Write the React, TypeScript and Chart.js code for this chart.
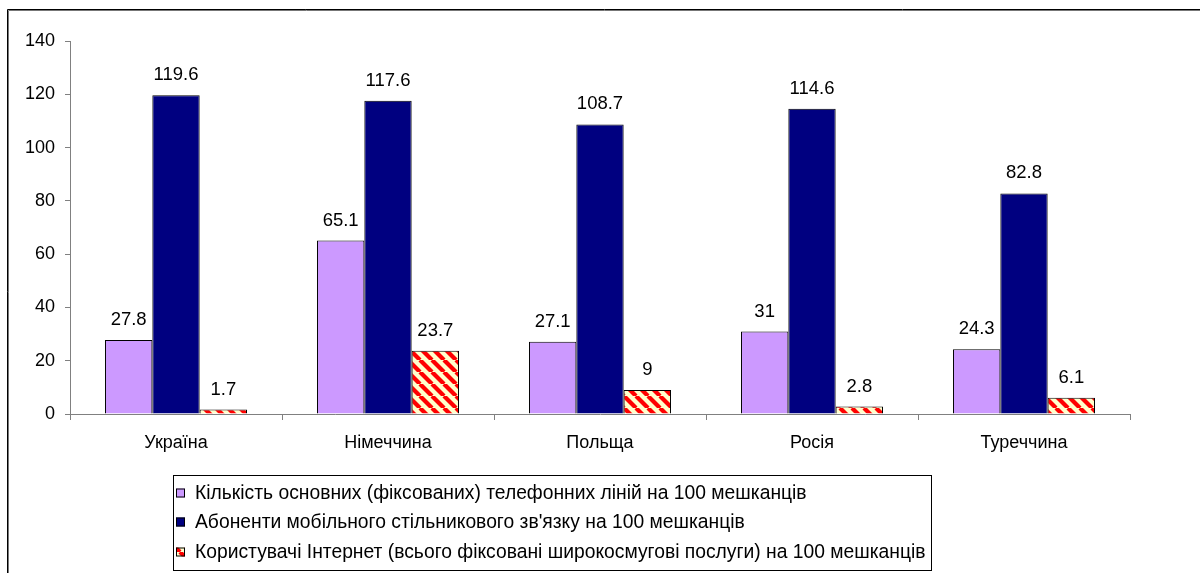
import React, { useEffect, useRef } from "react";
import { Chart, registerables } from "chart.js";

Chart.register(...registerables);

const categories = ["Україна", "Німеччина", "Польща", "Росія", "Туреччина"];
const seriesLabels = [
  "Кількість основних (фіксованих) телефонних ліній на 100 мешканців",
  "Абоненти мобільного стільникового зв'язку на 100 мешканців",
  "Користувачі Інтернет (всього фіксовані широкосмугові послуги) на 100 мешканців",
];
const fixedLines = [27.8, 65.1, 27.1, 31, 24.3];
const mobileSubs = [119.6, 117.6, 108.7, 114.6, 82.8];
const internetUsers = [1.7, 23.7, 9, 2.8, 6.1];
const yTicks = { min: 0, max: 140, step: 20 };

const FONT = '"Liberation Sans", Arial, sans-serif';

function makeHatch(): CanvasPattern | string {
  const n = 12;
  const c = document.createElement("canvas");
  c.width = n;
  c.height = n;
  const g = c.getContext("2d");
  if (!g) return "#FFFFCC";
  g.fillStyle = "#FFFFCC";
  g.fillRect(0, 0, n, n);
  g.strokeStyle = "#FF0000";
  g.lineWidth = 4.2;
  for (const o of [-n, 0, n]) {
    g.beginPath();
    g.moveTo(o, 0);
    g.lineTo(o + n, n);
    g.stroke();
  }
  const p = g.createPattern(c, "repeat");
  return p || "#FFFFCC";
}

const valueLabels = {
  id: "valueLabels",
  afterDatasetsDraw(chart: any) {
    const ctx = chart.ctx;
    ctx.save();
    ctx.font = `18.5px ${FONT}`;
    ctx.fillStyle = "#000";
    ctx.textAlign = "center";
    ctx.textBaseline = "middle";
    chart.data.datasets.forEach((ds: any, i: number) => {
      const meta = chart.getDatasetMeta(i);
      meta.data.forEach((el: any, j: number) => {
        ctx.fillText(String(ds.data[j]), el.x, el.y - 20);
      });
    });
    ctx.restore();
  },
};

const boxLegend = {
  id: "boxLegend",
  afterDraw(chart: any) {
    const ctx = chart.ctx;
    ctx.save();
    // outer frame
    ctx.lineWidth = 1;
    ctx.strokeStyle = "#000";
    ctx.beginPath();
    ctx.moveTo(7.5, 600);
    ctx.lineTo(7.5, 9.5);
    ctx.lineTo(1250, 9.5);
    ctx.stroke();
    ctx.strokeStyle = "#777";
    ctx.beginPath();
    ctx.moveTo(8.5, 600);
    ctx.lineTo(8.5, 10.5);
    ctx.lineTo(1250, 10.5);
    ctx.stroke();

    // legend box
    const bx = 173.5, by = 475.5, bw = 758, bh = 95;
    ctx.fillStyle = "#fff";
    ctx.fillRect(bx, by, bw, bh);
    ctx.strokeStyle = "#000";
    ctx.strokeRect(bx, by, bw, bh);
    ctx.font = `19.3px ${FONT}`;
    ctx.textBaseline = "middle";
    ctx.textAlign = "left";
    const rows = [493, 522, 552];
    chart.data.datasets.forEach((ds: any, i: number) => {
      const y = rows[i];
      ctx.fillStyle = ds.backgroundColor;
      ctx.fillRect(176, y - 4.5, 9, 9);
      ctx.strokeStyle = "#000";
      ctx.strokeRect(176.5, y - 4, 8, 8);
      ctx.fillStyle = "#000";
      ctx.fillText(ds.label, 195, y + 1);
    });
    ctx.restore();
  },
};

export default function App() {
  const ref = useRef<HTMLCanvasElement | null>(null);
  useEffect(() => {
    if (!ref.current) return;
    const hatch = makeHatch();
    const chart = new Chart(ref.current, {
      type: "bar",
      data: {
        labels: categories,
        datasets: [
          { label: seriesLabels[0], data: fixedLines, backgroundColor: "#CC99FF", borderColor: "#000", borderWidth: 1 },
          { label: seriesLabels[1], data: mobileSubs, backgroundColor: "#000080", borderColor: "#000", borderWidth: 1 },
          { label: seriesLabels[2], data: internetUsers, backgroundColor: hatch as any, borderColor: "#000", borderWidth: 1 },
        ],
      },
      options: {
        responsive: false,
        animation: false,
        events: [],
        layout: { padding: { left: 0, top: 41, right: 70, bottom: 0 } },
        datasets: { bar: { categoryPercentage: 0.67, barPercentage: 1 } } as any,
        plugins: { legend: { display: false }, tooltip: { enabled: false } },
        scales: {
          x: {
            grid: { offset: true, drawOnChartArea: false, drawTicks: true, tickLength: 6, color: "#808080" },
            border: { color: "#808080" },
            ticks: { color: "#000", font: { family: FONT, size: 18 }, padding: 12, maxRotation: 0 },
            afterFit: (s: any) => { s.height = 159; },
          },
          y: {
            min: yTicks.min,
            max: yTicks.max,
            grid: { drawOnChartArea: false, drawTicks: true, tickLength: 5, color: "#808080" },
            border: { color: "#808080" },
            ticks: { stepSize: yTicks.step, color: "#000", font: { family: FONT, size: 18 }, padding: 10 },
            afterFit: (s: any) => { s.width = 70; },
          },
        },
      },
      plugins: [valueLabels, boxLegend],
    });
    return () => chart.destroy();
  }, []);
  return (
    <div style={{ position: "absolute", left: 0, top: 0, width: 1200, height: 573, background: "#fff" }}>
      <canvas ref={ref} width={1200} height={573} style={{ width: 1200, height: 573, display: "block" }} />
    </div>
  );
}
